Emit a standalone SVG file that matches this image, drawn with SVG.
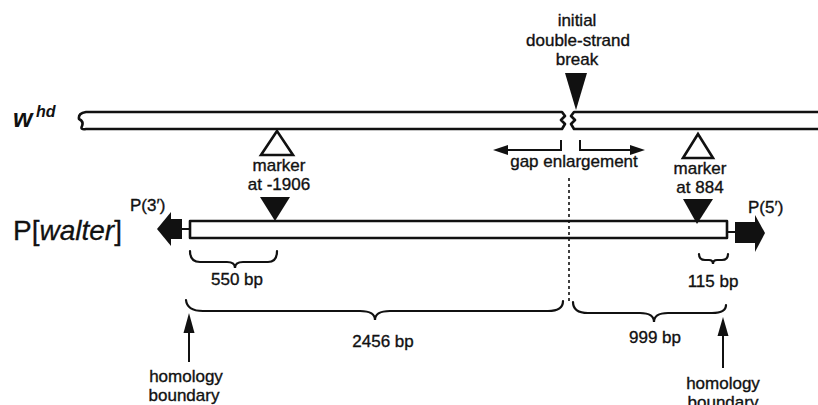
<svg xmlns="http://www.w3.org/2000/svg" width="818" height="405" viewBox="0 0 818 405">
<style>
text{font-family:"Liberation Sans",Arial,Helvetica,sans-serif;fill:#111;font-size:17px;stroke:#111;stroke-width:0.35}
.c{text-anchor:middle}
.ln{fill:none;stroke:#111;stroke-width:2.6;stroke-linejoin:round;stroke-linecap:round}
.th{fill:none;stroke:#111;stroke-width:2}
.br{fill:none;stroke:#111;stroke-width:2.2;stroke-linecap:round}
.blk{fill:#111;stroke:none}
.hol{fill:#fff;stroke:#111;stroke-width:2.6;stroke-linejoin:miter}
</style>
<rect width="818" height="405" fill="#fff"/>

<g id="label-initial-break">
<text class="c" x="577" y="26">initial</text>
<text class="c" x="578" y="46">double-strand</text>
<text class="c" x="577" y="65">break</text>
<polygon class="blk" points="565,73 587,73 576,110"/>
</g>

<g id="whd-chromosome">
<text x="13" y="127" style="font-size:25px;font-style:italic;font-weight:bold;stroke-width:0">w</text>
<text x="36" y="117" style="font-size:16px;font-style:italic;font-weight:bold;stroke-width:0">hd</text>
<path class="ln" d="M86,112 L562,112 L565,116 L561,120 L565,124 L562,129 L86,129 Q80,130 82,126 Q84,121 79,119 Q78,113 86,112 Z" fill="#fff"/>
<path class="ln" d="M818,112 L574,112 L571,116 L575,120 L571,124 L574,129 L818,129" fill="#fff"/>
</g>

<g id="marker-left">
<polygon class="hol" points="277,131 261,155 293,155"/>
<text class="c" x="279" y="171">marker</text>
<text class="c" x="279" y="190">at -1906</text>
<polygon class="blk" points="260,197 290,197 275,221"/>
</g>

<g id="marker-right">
<polygon class="hol" points="698,134 683,158 713,158"/>
<text class="c" x="700" y="174">marker</text>
<text class="c" x="700" y="193">at 884</text>
<polygon class="blk" points="683,199 713,199 697,224"/>
</g>

<g id="pwalter">
<text x="13" y="240" style="font-size:28px;stroke-width:0.3">P[<tspan style="font-style:italic">walter</tspan>]</text>
<rect class="ln" x="190" y="221" width="537" height="17" fill="#fff"/>
<text x="130" y="211">P(3′)</text>
<line class="th" x1="182" y1="229" x2="190" y2="229"/>
<rect class="blk" x="170" y="219" width="12" height="20"/>
<polygon class="blk" points="157,229 171,212 171,246"/>
<text x="748" y="213">P(5′)</text>
<line class="th" x1="727" y1="232" x2="735" y2="232"/>
<rect class="blk" x="735" y="222" width="21" height="21"/>
<polygon class="blk" points="755,215 765,233 755,252"/>
</g>

<g id="connectors">
<path class="th" d="M561,140 L561,150 L504,150"/>
<polygon class="blk" points="493,150 508,145 508,155"/>
<path class="th" d="M580,140 L580,150 L634,150"/>
<polygon class="blk" points="645,150 630,145 630,155"/>
<line x1="569" y1="178" x2="569" y2="302" stroke="#111" stroke-width="1.6" stroke-dasharray="3,3"/>
<line class="th" x1="189" y1="328" x2="189" y2="362"/>
<polygon class="blk" points="189,313 183.5,333 194.5,333"/>
<line class="th" x1="723" y1="330" x2="723" y2="368"/>
<polygon class="blk" points="723,317 717.5,336 728.5,336"/>
</g>

<g id="brace-550">
<path class="br" d="M190,251 Q190,262 200,262 L227,262 Q235,262 235,268 Q235,262 243,262 L268,262 Q277,262 277,251"/>
<text class="c" x="237" y="285">550 bp</text>
</g>

<g id="brace-115">
<path class="br" d="M699,254 Q699,260 705,260 L709,260 Q713,260 713,264 Q713,260 717,260 L722,260 Q728,260 728,254"/>
<text class="c" x="713" y="287">115 bp</text>
</g>

<g id="brace-2456">
<path class="br" d="M186,300 Q187,311 203,311 L360,311 Q375,311 375,320 Q375,311 390,311 L548,311 Q563,311 563,301"/>
<text class="c" x="383" y="347">2456 bp</text>
</g>

<g id="brace-999">
<path class="br" d="M573,302 Q573,313 588,313 L640,313 Q654,313 654,322 Q654,313 668,313 L712,313 Q726,313 726,305"/>
<text class="c" x="655" y="343">999 bp</text>
</g>

<g id="homology-left">
<text class="c" x="186" y="382">homology</text>
<text class="c" x="184" y="401">boundary</text>
</g>

<g id="homology-right">
<text class="c" x="723" y="389">homology</text>
<text class="c" x="723" y="408">boundary</text>
</g>

<g id="gap-label">
<text class="c" x="574" y="167">gap enlargement</text>
</g>
</svg>
